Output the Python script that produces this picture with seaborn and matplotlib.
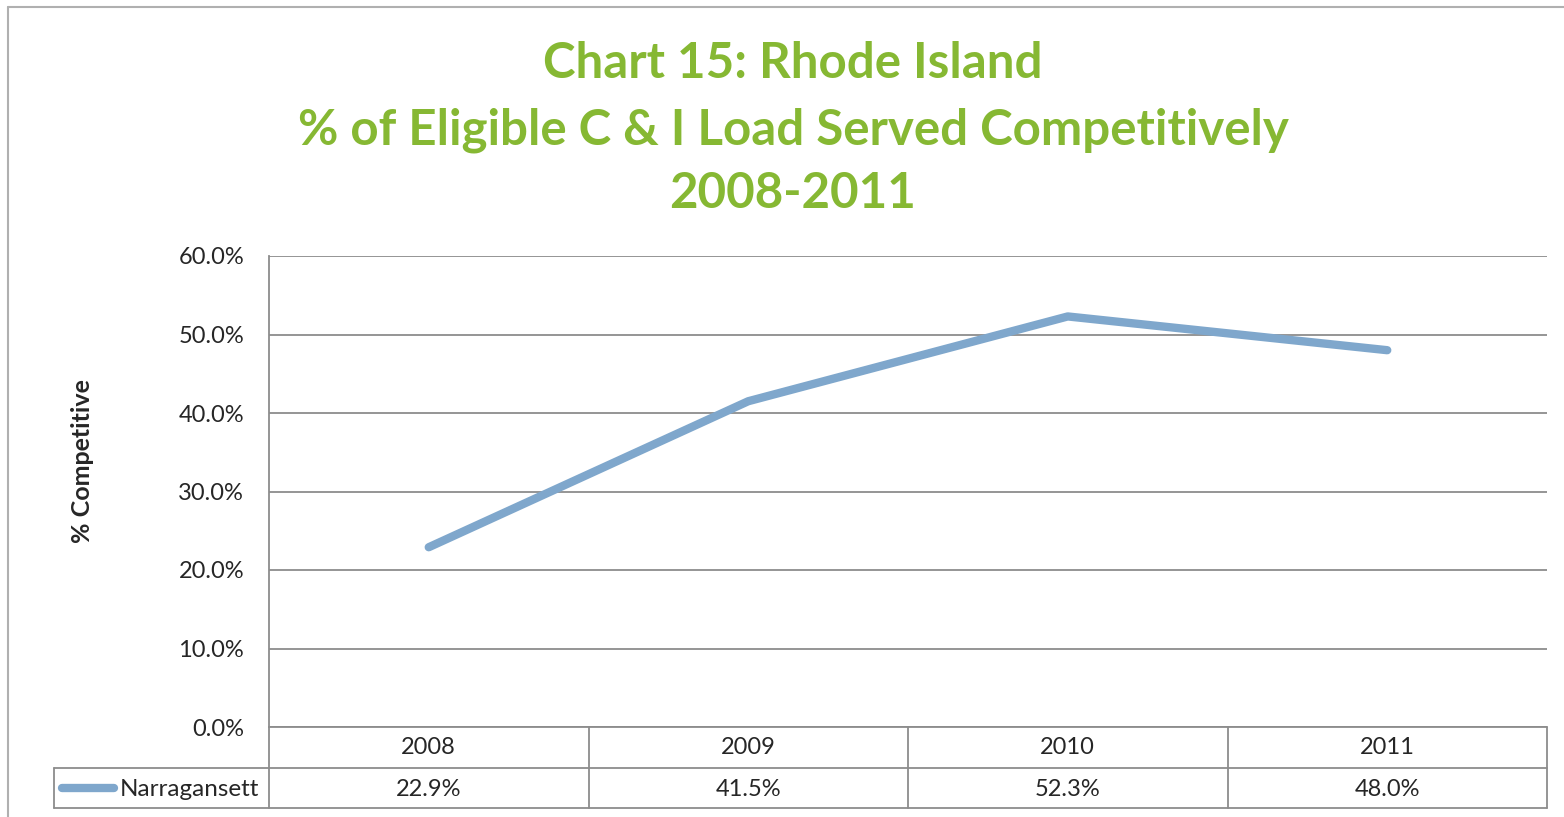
import pandas as pd
import seaborn as sns
import matplotlib.pyplot as plt
from matplotlib.lines import Line2D

years = ["2008", "2009", "2010", "2011"]
narragansett = [22.9, 41.5, 52.3, 48.0]
yticks = [0, 10, 20, 30, 40, 50, 60]

df = pd.DataFrame({"year": years, "pct": narragansett})

sns.set_theme(style="white")
plt.rcParams['font.family'] = ['Lato', 'DejaVu Sans']

W, H = 1564, 817
fig = plt.figure(figsize=(W / 100, H / 100), dpi=100)
ax = fig.add_axes([269 / W, 1 - 727 / H, (1547 - 269) / W, (727 - 256) / H])

line_color = "#7fa7cc"
grid_color = "#8c8c8c"
green = "#86b833"

sns.lineplot(data=df, x="year", y="pct", ax=ax, color=line_color,
             linewidth=6, solid_capstyle="round", sort=False)

ax.set_xlim(-0.5, 3.5)
ax.set_ylim(0, 60)
ax.set_yticks(yticks)
ax.set_yticklabels([f"{v:.1f}%" for v in yticks], fontsize=17)
ax.tick_params(axis="y", length=0, pad=18)
ax.set_xticks([])
ax.set_xlabel("")
ax.set_ylabel("")
for y in yticks:
    ax.axhline(y, color=grid_color, linewidth=1.3, zorder=0)
for s in ["top", "right", "bottom"]:
    ax.spines[s].set_visible(False)
ax.spines["left"].set_color(grid_color)
ax.spines["left"].set_linewidth(1.3)

# data table under the axis
px = lambda x: x / W
py = lambda y: 1 - y / H
tkw = dict(color=grid_color, linewidth=1.3, transform=fig.transFigure)
fig.add_artist(Line2D([px(269), px(269)], [py(727), py(808)], **tkw))
fig.add_artist(Line2D([px(1547), px(1547)], [py(727), py(808)], **tkw))
fig.add_artist(Line2D([px(269), px(1547)], [py(727), py(727)], **tkw))
fig.add_artist(Line2D([px(54), px(1547)], [py(768), py(768)], **tkw))
fig.add_artist(Line2D([px(54), px(1547)], [py(808), py(808)], **tkw))
fig.add_artist(Line2D([px(54), px(54)], [py(768), py(808)], **tkw))
colw = (1547 - 269) / 4
for i in range(1, 4):
    xx = 269 + i * colw
    fig.add_artist(Line2D([px(xx), px(xx)], [py(727), py(808)], **tkw))
for i, (yr, v) in enumerate(zip(years, narragansett)):
    xc = px(269 + (i + 0.5) * colw)
    fig.text(xc, py(748), yr, ha="center", va="center", fontsize=17)
    fig.text(xc, py(789), f"{v:.1f}%", ha="center", va="center", fontsize=17)
fig.add_artist(Line2D([px(62), px(114)], [py(788), py(788)], color=line_color,
                      linewidth=6, solid_capstyle="round", transform=fig.transFigure))
fig.text(px(120), py(789), "Narragansett", ha="left", va="center", fontsize=17.5)

# outer border
bkw = dict(color="#b0b0b0", linewidth=1.5, transform=fig.transFigure)
fig.add_artist(Line2D([px(8), px(8)], [py(7), py(817)], **bkw))
fig.add_artist(Line2D([px(8), px(1564)], [py(7), py(7)], **bkw))

fig.text(px(83), py(461), "% Competitive", rotation=90, ha="center", va="center",
         fontsize=18, fontweight="bold")

for t, y in [("Chart 15: Rhode Island", 64),
             ("% of Eligible C & I Load Served Competitively", 130),
             ("2008-2011", 193)]:
    fig.text(px(793), py(y), t, ha="center", va="center", fontsize=35.5,
             fontweight="bold", color=green)

fig.savefig("out.png", dpi=100)
